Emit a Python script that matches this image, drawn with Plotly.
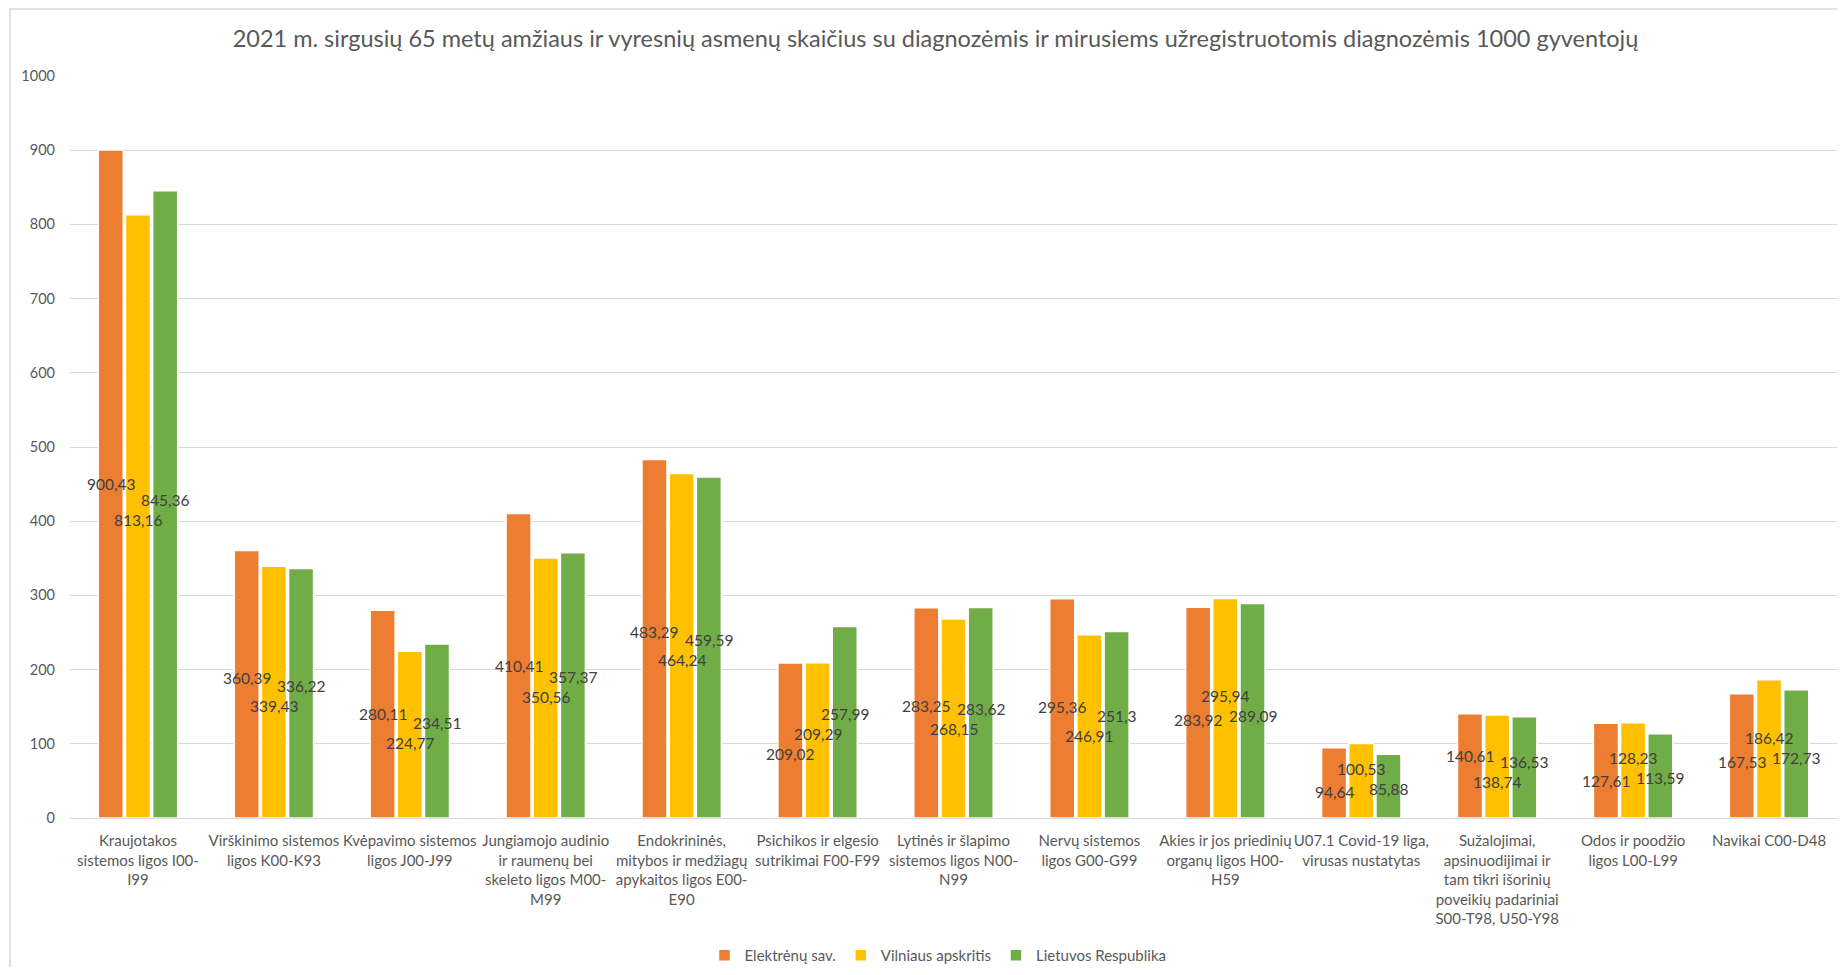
import plotly.graph_objects as go

categories = [
    "Kraujotakos<br>sistemos ligos I00-<br>I99",
    "Virškinimo sistemos<br>ligos K00-K93",
    "Kvėpavimo sistemos<br>ligos J00-J99",
    "Jungiamojo audinio<br>ir raumenų bei<br>skeleto ligos M00-<br>M99",
    "Endokrininės,<br>mitybos ir medžiagų<br>apykaitos ligos E00-<br>E90",
    "Psichikos ir elgesio<br>sutrikimai F00-F99",
    "Lytinės ir šlapimo<br>sistemos ligos N00-<br>N99",
    "Nervų sistemos<br>ligos G00-G99",
    "Akies ir jos priedinių<br>organų ligos H00-<br>H59",
    "U07.1 Covid-19 liga,<br>virusas nustatytas",
    "Sužalojimai,<br>apsinuodijimai ir<br>tam tikri išorinių<br>poveikių padariniai<br>S00-T98, U50-Y98",
    "Odos ir poodžio<br>ligos L00-L99",
    "Navikai C00-D48",
]

elektrenai = [900.43, 360.39, 280.11, 410.41, 483.29, 209.02, 283.25, 295.36, 283.92, 94.64, 140.61, 127.61, 167.53]
vilniaus = [813.16, 339.43, 224.77, 350.56, 464.24, 209.29, 268.15, 246.91, 295.94, 100.53, 138.74, 128.23, 186.42]
lietuva = [845.36, 336.22, 234.51, 357.37, 459.59, 257.99, 283.62, 251.3, 289.09, 85.88, 136.53, 113.59, 172.73]

series_names = ["Elektrėnų sav.", "Vilniaus apskritis", "Lietuvos Respublika"]
series_values = [elektrenai, vilniaus, lietuva]
colors = ["#ED7D31", "#FFC000", "#70AD47"]

title = "2021 m. sirgusių 65 metų amžiaus ir vyresnių asmenų skaičius su diagnozėmis ir mirusiems užregistruotomis diagnozėmis 1000 gyventojų"
y_ticks = [0, 100, 200, 300, 400, 500, 600, 700, 800, 900, 1000]

FONT = "Lato"
TXT = "#595959"
LABEL_TXT = "#404040"

# The page has an 8px body margin, so the figure is sized to the window minus it.
W, H = 1829, 959
ml, mr, mt, mb = 62, 0, 68, 149
pw = W - ml - mr
ph = H - mt - mb
BARGAP = 0.40
BARGROUPGAP = 0.08
YMAX = 1000


def fmt(v):
    return f"{v:g}".replace(".", ",")


fig = go.Figure()
for name, vals, col in zip(series_names, series_values, colors):
    fig.add_trace(go.Bar(
        name=name,
        x=categories,
        y=vals,
        marker=dict(color=col, line=dict(color="white", width=1.5)),
    ))

# Data labels: centred in each bar, nudged apart where neighbouring labels would collide
n_series = len(series_values)
slot_px = pw / len(categories) * (1 - BARGAP) / n_series
sep = 27  # minimum vertical separation, in axis units, between neighbouring labels
annotations = []
for g, cat in enumerate(categories):
    ys = [vals[g] / 2 for vals in series_values]
    for _ in range(30):
        for i, j in [(0, 1), (1, 2)]:
            d = ys[j] - ys[i]
            if abs(d) < sep:
                push = (sep - abs(d)) / 2
                s = 1 if d >= 0 else -1
                ys[i] -= s * push
                ys[j] += s * push
    for i, vals in enumerate(series_values):
        annotations.append(dict(
            x=cat, y=ys[i], xref="x", yref="y",
            xshift=(i - (n_series - 1) / 2) * slot_px,
            text=fmt(vals[g]), showarrow=False,
            font=dict(family=FONT, size=15.5, color=LABEL_TXT),
        ))

fig.update_layout(
    width=W, height=H,
    margin=dict(l=ml, r=mr, t=mt, b=mb, autoexpand=False),
    paper_bgcolor="white",
    plot_bgcolor="white",
    barmode="group",
    bargap=BARGAP,
    bargroupgap=BARGROUPGAP,
    font=dict(family=FONT, color=TXT),
    title=dict(text=title, x=927.5 / W, xanchor="center", y=1 - 31 / H, yanchor="middle",
               yref="container", xref="container", font=dict(family=FONT, size=23.5, color=TXT)),
    legend=dict(orientation="h", x=(930 - ml) / pw, xanchor="center", y=-(947.5 - (H - mb)) / ph,
                yanchor="middle", font=dict(family=FONT, size=15, color=TXT),
                itemwidth=30, traceorder="normal"),
    xaxis=dict(showgrid=False, showline=True, linecolor="#D9D9D9", linewidth=1,
               ticks="", tickangle=0, automargin=False, ticklabelstandoff=9,
               tickfont=dict(family=FONT, size=15, color=TXT)),
    yaxis=dict(range=[0, YMAX], tickvals=y_ticks, ticktext=[str(t) for t in y_ticks],
               showgrid=True, gridcolor="#D9D9D9", gridwidth=1, zeroline=False,
               showline=False, ticks="", ticklabelstandoff=14, automargin=False,
               tickfont=dict(family=FONT, size=14.5, color=TXT)),
    annotations=annotations,
    shapes=[dict(type="rect", xref="paper", yref="paper",
                 x0=(2 - ml) / pw, x1=(W + 5 - ml) / pw,
                 y0=-(H + 5 - (H - mb)) / ph, y1=(H - mb - 1) / ph,
                 line=dict(color="#D9D9D9", width=1.5), fillcolor="rgba(0,0,0,0)", layer="below")],
)

fig.write_html("out.html")
